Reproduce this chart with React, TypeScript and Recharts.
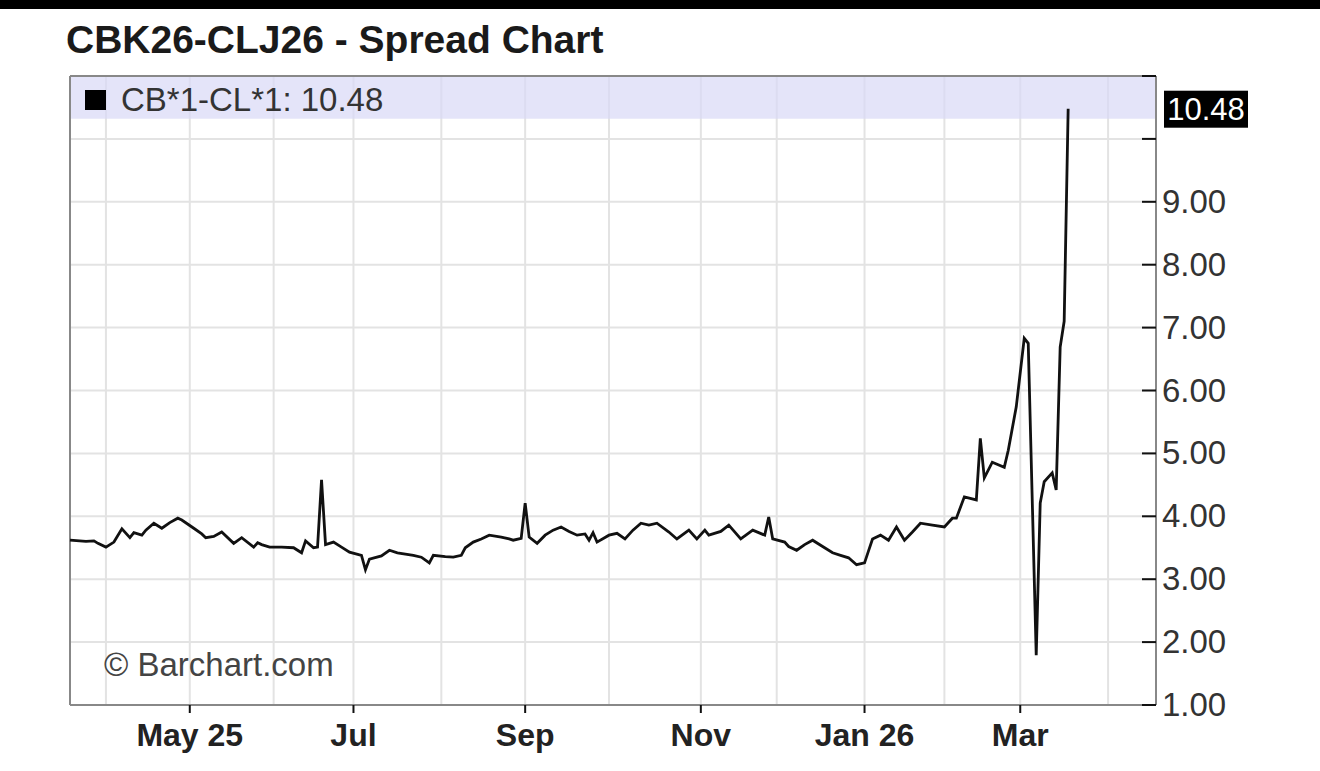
import { LineChart, Line, XAxis, YAxis, CartesianGrid, ReferenceArea, ReferenceLine } from 'recharts'

// trading-day index (0 = mid Apr 2025) and spread value CB*1-CL*1
const dayIdx = [
  0, 4, 6, 7, 9, 11, 13, 15, 16, 18, 19, 21, 23, 25, 27, 28, 31, 33, 34, 36,
  38, 41, 43, 46, 47, 48, 50, 53, 56, 58, 59, 61, 62, 63, 64, 66, 68, 70, 73, 74,
  75, 78, 80, 82, 84, 86, 88, 90, 91, 94, 96, 98, 99, 101, 103, 105, 108, 110, 111, 113,
  114, 115, 117, 119, 121, 123, 125, 127, 129, 130, 131, 132, 135, 137, 139, 141, 143, 145, 147, 150,
  152, 155, 157, 159, 160, 163, 165, 168, 171, 174, 175, 176, 179, 180, 182, 184, 186, 188, 191, 193,
  195, 197, 199, 200, 201, 203, 205, 207, 209, 211, 213, 216, 219, 221, 222, 224, 227, 228, 229, 231,
  234, 235, 237, 239, 240, 242, 243, 244, 246, 247, 248, 249, 250,
]
const spreadVals = [
  3.62, 3.6, 3.61, 3.57, 3.51, 3.59, 3.8, 3.66, 3.74, 3.7, 3.78, 3.89, 3.81, 3.9, 3.97, 3.94, 3.81, 3.72, 3.66, 3.68,
  3.75, 3.57, 3.66, 3.51, 3.58, 3.55, 3.51, 3.51, 3.5, 3.42, 3.61, 3.5, 3.51, 4.58, 3.55, 3.59, 3.51, 3.43, 3.38, 3.15,
  3.32, 3.37, 3.46, 3.42, 3.4, 3.38, 3.35, 3.26, 3.38, 3.36, 3.35, 3.38, 3.5, 3.59, 3.64, 3.7, 3.67, 3.64, 3.62, 3.65,
  4.21, 3.67, 3.57, 3.7, 3.78, 3.83, 3.76, 3.7, 3.72, 3.62, 3.74, 3.59, 3.7, 3.73, 3.64, 3.78, 3.89, 3.86, 3.89, 3.75,
  3.64, 3.78, 3.64, 3.78, 3.7, 3.76, 3.86, 3.64, 3.78, 3.7, 3.99, 3.64, 3.59, 3.52, 3.46, 3.55, 3.62, 3.54, 3.42, 3.38,
  3.34, 3.23, 3.26, 3.45, 3.64, 3.7, 3.62, 3.83, 3.62, 3.75, 3.89, 3.86, 3.83, 3.97, 3.97, 4.31, 4.26, 5.24, 4.61, 4.86,
  4.78, 5.05, 5.74, 6.83, 6.75, 1.79, 4.21, 4.55, 4.69, 4.42, 6.69, 7.1, 10.48,
]

// month gridlines (trading-day index of each month start)
const monthTicks = [9, 30, 51, 71, 93, 114, 135, 158, 177, 199, 219, 238, 260]
const monthLabels = ['', 'May 25', '', 'Jul', '', 'Sep', '', 'Nov', '', 'Jan 26', '', 'Mar', '']
const priceTicks = [1, 2, 3, 4, 5, 6, 7, 8, 9, 10, 11]

const lastValue = 10.48
const FONT = '"Liberation Sans", Arial, sans-serif'

const data = dayIdx.map((d, i) => ({ day: d, spread: spreadVals[i] }))

const XTick = (props: any) => {
  const { x, y, payload } = props
  const label = monthLabels[monthTicks.indexOf(payload.value)] ?? ''
  if (!label) return null
  return (
    <g>
      <line x1={x} x2={x} y1={y - 8} y2={y} stroke="#111" strokeWidth={2} />
      <text x={x} y={y + 33} textAnchor="middle" fontFamily={FONT} fontSize={32} fontWeight="bold" fill="#222">
        {label}
      </text>
    </g>
  )
}

const YTick = (props: any) => {
  const { x, y, payload } = props
  const v = payload.value as number
  return (
    <g>
      <line x1={x - 20} x2={x - 6} y1={y} y2={y} stroke="#111" strokeWidth={2} />
      {v < 10 && (
        <text x={x} y={y + 11} fontFamily={FONT} fontSize={33} fill="#333">
          {v.toFixed(2)}
        </text>
      )}
    </g>
  )
}

const LastLabel = (props: any) => {
  const { viewBox } = props
  const bx = viewBox.x + viewBox.width + 8
  const by = viewBox.y
  return (
    <g>
      <rect x={bx} y={by - 18} width={84} height={37} fill="#000" />
      <text x={bx + 42} y={by + 11} textAnchor="middle" fontFamily={FONT} fontSize={31} fill="#fff">
        {lastValue.toFixed(2)}
      </text>
    </g>
  )
}

export default function App() {
  return (
    <div style={{ position: 'fixed', left: 0, top: 0, width: 1320, height: 771, background: '#fff', fontFamily: FONT }}>
      <div style={{ position: 'absolute', left: 0, top: 0, width: 1320, height: 9, background: '#000' }} />
      <div style={{ position: 'absolute', left: 66, top: 20, fontSize: 39, lineHeight: 1, fontWeight: 'bold', color: '#1a1a1a' }}>
        CBK26-CLJ26 - Spread Chart
      </div>
      <LineChart width={1320} height={771} data={data} margin={{ top: 76, right: 0, bottom: 0, left: 70 }}>
        <CartesianGrid stroke="#e3e3e3" strokeWidth={2} />
        <ReferenceArea y1={10.32} y2={11} fill="#d8d8f6" fillOpacity={0.7} stroke="none" ifOverflow="visible" />
        <XAxis
          dataKey="day"
          type="number"
          domain={[0, 272]}
          ticks={monthTicks}
          interval={0}
          height={66}
          tickSize={8}
          tickMargin={0}
          tickLine={false}
          axisLine={{ stroke: '#888', strokeWidth: 2 }}
          tick={<XTick />}
        />
        <YAxis
          orientation="right"
          type="number"
          domain={[1, 11]}
          ticks={priceTicks}
          interval={0}
          width={164}
          tickSize={6}
          tickMargin={0}
          tickLine={false}
          axisLine={{ stroke: '#888', strokeWidth: 2 }}
          tick={<YTick />}
        />
        <ReferenceLine x={0} stroke="#888" strokeWidth={2} />
        <ReferenceLine y={11} stroke="#888" strokeWidth={2} />
        <ReferenceLine y={lastValue} stroke="none" label={<LastLabel />} />
        <Line
          dataKey="spread"
          type="linear"
          stroke="#111"
          strokeWidth={2.8}
          dot={false}
          isAnimationActive={false}
        />
      </LineChart>
      <div style={{ position: 'absolute', left: 85, top: 90, width: 21, height: 20, background: '#000' }} />
      <div style={{ position: 'absolute', left: 121, top: 83, fontSize: 33, lineHeight: 1, color: '#333' }}>
        CB*1-CL*1: 10.48
      </div>
      <div style={{ position: 'absolute', left: 104, top: 648, fontSize: 33, lineHeight: 1, color: '#444' }}>
        © Barchart.com
      </div>
    </div>
  )
}
